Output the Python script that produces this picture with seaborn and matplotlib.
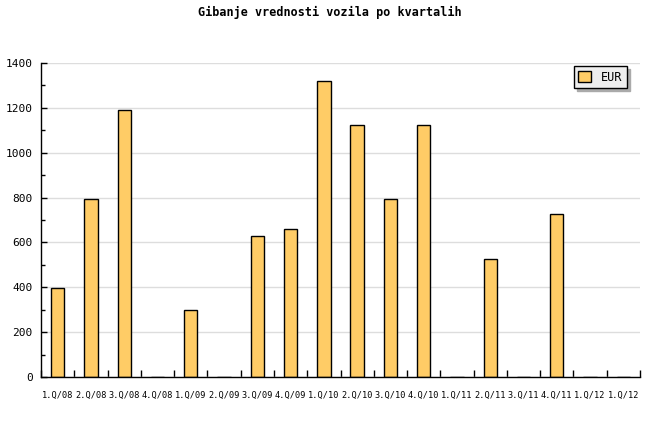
import pandas as pd
import matplotlib
matplotlib.use("Agg")
import matplotlib.pyplot as plt
import seaborn as sns
from matplotlib.ticker import MultipleLocator

# data
quarters = ["1.Q/08", "2.Q/08", "3.Q/08", "4.Q/08", "1.Q/09", "2.Q/09",
            "3.Q/09", "4.Q/09", "1.Q/10", "2.Q/10", "3.Q/10", "4.Q/10",
            "1.Q/11", "2.Q/11", "3.Q/11", "4.Q/11", "1.Q/12", "1.Q/12"]
eur = [395, 795, 1190, 0, 300, 0,
       630, 660, 1320, 1125, 795, 1125,
       0, 525, 0, 725, 0, 0]

df = pd.DataFrame({"pos": range(len(quarters)), "EUR": eur})

sns.set_style("white")
plt.rcParams["font.family"] = ["DejaVu Sans Mono", "DejaVu Sans"]
plt.rcParams["text.color"] = "black"
plt.rcParams["xtick.color"] = "black"
plt.rcParams["ytick.color"] = "black"

fig = plt.figure(figsize=(6.6, 4.4), dpi=100)
ax = fig.add_axes([41/660, 1-377/440, 599/660, 314/440])

sns.barplot(data=df, x="pos", y="EUR", color="#ffcc66", width=0.4,
            edgecolor="black", linewidth=1, saturation=1, ax=ax, label="EUR")

ax.set_ylim(0, 1400)
ax.set_xlim(-0.5, len(quarters) - 0.5)
ax.yaxis.set_major_locator(MultipleLocator(200))
ax.yaxis.set_minor_locator(MultipleLocator(100))
ax.grid(axis="y", color="#dddddd", linewidth=1)
ax.set_axisbelow(True)

ax.set_xticks(range(len(quarters)))
ax.set_xticklabels(quarters, fontsize=6.2)
ax.tick_params(axis="x", which="major", bottom=True, length=0, pad=10)
# boundary ticks between quarters
ax.set_xticks([i - 0.5 for i in range(len(quarters) + 1)], minor=True)
ax.tick_params(axis="x", which="minor", bottom=True, direction="in",
               length=5, width=1, color="black")
ax.tick_params(axis="y", which="major", left=True, direction="in", length=4,
               width=1, labelsize=8, pad=6, colors="black")
ax.tick_params(axis="y", which="minor", left=True, direction="in", length=3,
               width=1, color="black")

ax.set_xlabel("")
ax.set_ylabel("")
for s in ["top", "right"]:
    ax.spines[s].set_visible(False)
for s in ["left", "bottom"]:
    ax.spines[s].set_color("black")
    ax.spines[s].set_linewidth(1)
    ax.spines[s].set_zorder(5)

leg = ax.legend(loc="upper right", frameon=True, fancybox=False,
                shadow={"color": "#aaaaaa", "alpha": 1}, fontsize=8.5,
                handlelength=1.1, handleheight=1.1, borderaxespad=0,
                borderpad=0.4, handletextpad=0.8)
leg.get_frame().set_facecolor("#eeeeee")
leg.get_frame().set_edgecolor("black")
leg.get_frame().set_alpha(1)
leg.set_bbox_to_anchor((586/599, 1 - 3/314), transform=ax.transAxes)

fig.text(0.5, 1 - 12/440, "Gibanje vrednosti vozila po kvartalih",
         ha="center", va="center", fontsize=8.5, fontweight="bold")

fig.savefig("out.png", dpi=100, facecolor="white")
